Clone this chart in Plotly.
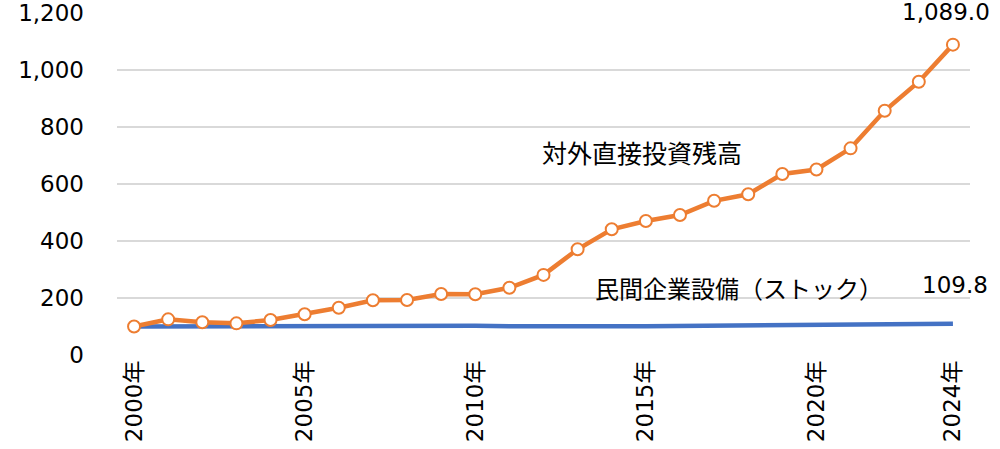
import plotly.graph_objects as go

years = list(range(2000, 2025))
fdi_stock = [100, 125, 115, 111, 123, 143, 166, 192, 193, 214, 213, 236, 281, 371, 441,
             470, 491, 541, 564, 635, 651, 725, 857, 959, 1089.0]
capex_stock = [100, 100.5, 101, 101.5, 102, 103, 104, 105, 105, 104, 103, 101, 100, 100, 100.5,
               101, 102, 103, 104, 105, 105, 105.5, 106, 107.5, 109.8]
tick_years = [2000, 2005, 2010, 2015, 2020, 2024]

font_main = "DejaVu Sans, Noto Sans CJK JP, sans-serif"
font_jp = "Noto Sans CJK JP"

fig = go.Figure()

fig.add_trace(go.Scatter(
    x=years, y=capex_stock, mode='lines', name='民間企業設備（ストック）',
    line=dict(color='#4472C4', width=4.5), cliponaxis=False
))
fig.add_trace(go.Scatter(
    x=years, y=fdi_stock, mode='lines+markers', name='対外直接投資残高',
    line=dict(color='#ED7D31', width=4.5),
    marker=dict(size=12, color='white', line=dict(color='#ED7D31', width=2)),
    cliponaxis=False
))

# series labels and end values
fig.add_annotation(x=years[-1], y=fdi_stock[-1], text=f"{fdi_stock[-1]:,.1f}", showarrow=False,
                   yshift=33, xshift=-7, font=dict(size=23, color='#000'))
fig.add_annotation(x=years[-1], y=capex_stock[-1], text=f"{capex_stock[-1]:,.1f}", showarrow=False,
                   yshift=39, xshift=2, font=dict(size=23, color='#000'))
fig.add_annotation(x=2011.9, y=712, text="対外直接投資残高", showarrow=False, xanchor='left',
                   font=dict(size=25, color='#000', family=font_jp))
fig.add_annotation(x=2013.45, y=238, text="民間企業設備（ストック）", showarrow=False, xanchor='left',
                   font=dict(size=24, color='#000', family=font_jp))

fig.update_layout(
    width=1000, height=449,
    margin=dict(l=117, r=30, t=13, b=94),
    plot_bgcolor='white', paper_bgcolor='white',
    showlegend=False,
    font=dict(family=font_main, size=23, color='#000'),
    xaxis=dict(
        range=[1999.5, 2024.5], tickvals=tick_years,
        ticktext=[f"{y}年" for y in tick_years], tickangle=-90,
        showgrid=False, zeroline=False, showline=False, ticks='',
        tickfont=dict(size=23, family=font_main), automargin=False
    ),
    yaxis=dict(
        range=[0, 1200], tickvals=list(range(0, 1201, 200)),
        tickformat=',d', showgrid=True, gridcolor='#d9d9d9', gridwidth=1.5,
        zeroline=False, showline=False, ticks='', ticklabelstandoff=32,
        tickfont=dict(size=23, family=font_main), automargin=False
    ),
)

# drop the default page margin so the figure sits at the window's corner
fig.write_html("out.html", config={'displayModeBar': False},
               post_script="document.body.style.margin='0';document.body.style.overflow='hidden';")
